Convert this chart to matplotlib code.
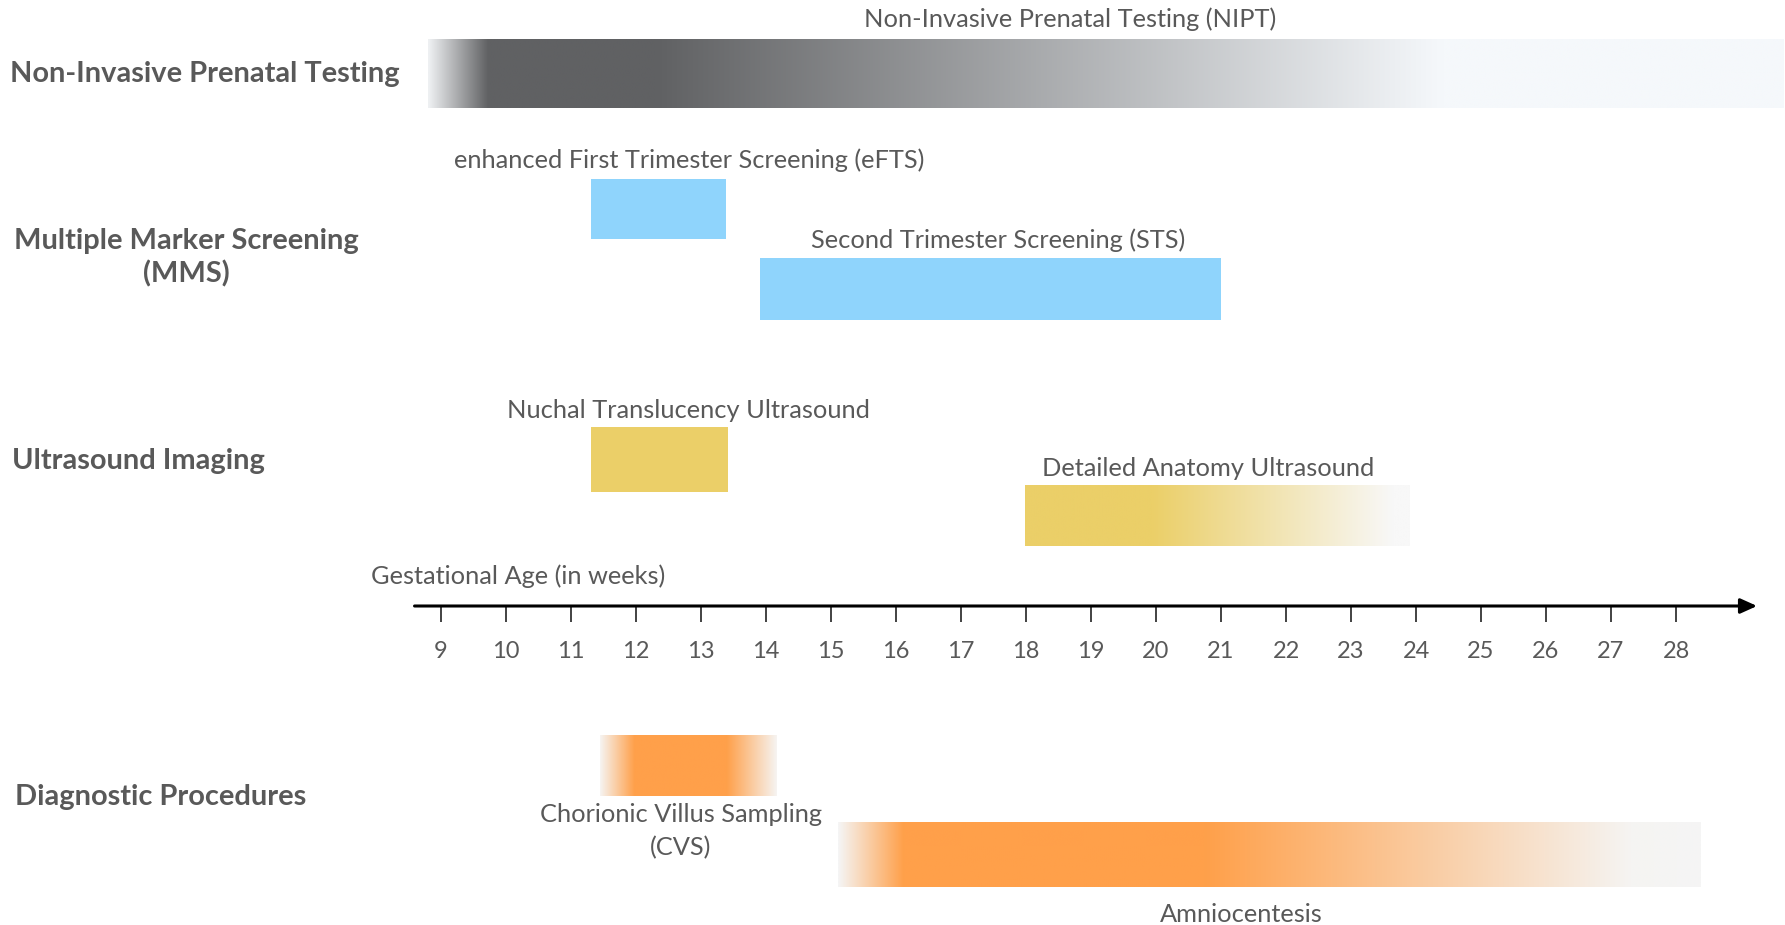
import numpy as np
import matplotlib
matplotlib.use('Agg')
import matplotlib.pyplot as plt
from matplotlib.colors import to_rgb

plt.rcParams['font.family'] = ['Lato', 'DejaVu Sans']

# gestational weeks on the timeline
weeks = list(range(9, 29))

# test windows (weeks): start/end plus colour stops along the bar
nipt_stops = [(8.80, '#eef0f2'), (9.71, '#606163'), (12.30, '#606163'), (24.40, '#f5f8fb'), (29.65, '#f5f8fb')]
efts_span = (11.30, 13.39)
sts_span = (13.90, 21.00)
nt_span = (11.30, 13.42)
anatomy_stops = [(17.98, '#ebcf68'), (19.94, '#ebcf68'), (23.65, '#f8f8f8'), (23.90, '#f8f8f8')]
cvs_stops = [(11.44, '#f6f4f2'), (11.97, '#ffa04a'), (13.39, '#ffa04a'), (14.16, '#f6f4f2')]
amnio_stops = [(15.10, '#f5f5f5'), (16.10, '#ffa04a'), (20.74, '#ffa04a'), (27.29, '#f5f4f2'), (28.37, '#f5f5f5')]

blue = '#8fd4fc'
yellow = '#ebcf68'
text_gray = '#595959'

fig = plt.figure(figsize=(17.85, 9.25), dpi=100)
ax = fig.add_axes([0, 0, 1, 1])
ax.set_xlim(9 - 441 / 65, 9 + (1785 - 441) / 65)
ax.set_ylim(925, 0)
ax.axis('off')


def gradient_bar(stops, top, bottom):
    xs = np.array([s[0] for s in stops])
    cols = np.array([to_rgb(s[1]) for s in stops])
    grid = np.linspace(xs[0], xs[-1], 600)
    img = np.stack([np.interp(grid, xs, cols[:, i]) for i in range(3)], axis=-1)[None, :, :]
    ax.imshow(img, extent=[xs[0], xs[-1], bottom, top], aspect='auto', interpolation='bilinear', zorder=1)


def solid_bar(span, top, bottom, color):
    ax.fill_between(span, top, bottom, color=color, lw=0, zorder=1)


gradient_bar(nipt_stops, 39, 108)
solid_bar(efts_span, 179, 239, blue)
solid_bar(sts_span, 258, 320, blue)
solid_bar(nt_span, 427, 492, yellow)
gradient_bar(anatomy_stops, 485, 546)
gradient_bar(cvs_stops, 735, 796)
gradient_bar(amnio_stops, 822, 887)

# timeline
ax.annotate('', xy=(29.29, 606), xytext=(8.55, 606),
            arrowprops=dict(arrowstyle='-|>,head_length=1.0,head_width=0.45', color='black', lw=2.2))
ax.vlines(weeks, 606, 622, color='#222222', lw=1.2)
for w in weeks:
    ax.text(w, 651, str(w), ha='center', va='center', fontsize=17, color=text_gray)

# labels on bars
lab = dict(fontsize=18.3, color=text_gray, va='center')
ax.text(18.68, 19, 'Non-Invasive Prenatal Testing (NIPT)', ha='center', **lab)
ax.text(12.82, 160, 'enhanced First Trimester Screening (eFTS)', ha='center', **lab)
ax.text(17.57, 240, 'Second Trimester Screening (STS)', ha='center', **lab)
ax.text(12.80, 411, 'Nuchal Translucency Ultrasound', ha='center', **lab)
ax.text(20.80, 469, 'Detailed Anatomy Ultrasound', ha='center', **lab)
ax.text(7.92, 576, 'Gestational Age (in weeks)', ha='left', **lab)
ax.text(12.69, 831, 'Chorionic Villus Sampling\n(CVS)', ha='center', linespacing=1.55, **lab)
ax.text(21.31, 914, 'Amniocentesis', ha='center', **lab)

# row headings
head = dict(fontsize=20.9, color=text_gray, fontweight='bold', va='center')
ax.text(2.37, 74, 'Non-Invasive Prenatal Testing', ha='left', **head)
ax.text(5.09, 258, 'Multiple Marker Screening\n(MMS)', ha='center', linespacing=1.3, **head)
ax.text(2.40, 461, 'Ultrasound Imaging', ha='left', **head)
ax.text(2.45, 797, 'Diagnostic Procedures', ha='left', **head)

fig.savefig('out.png', dpi=100)
